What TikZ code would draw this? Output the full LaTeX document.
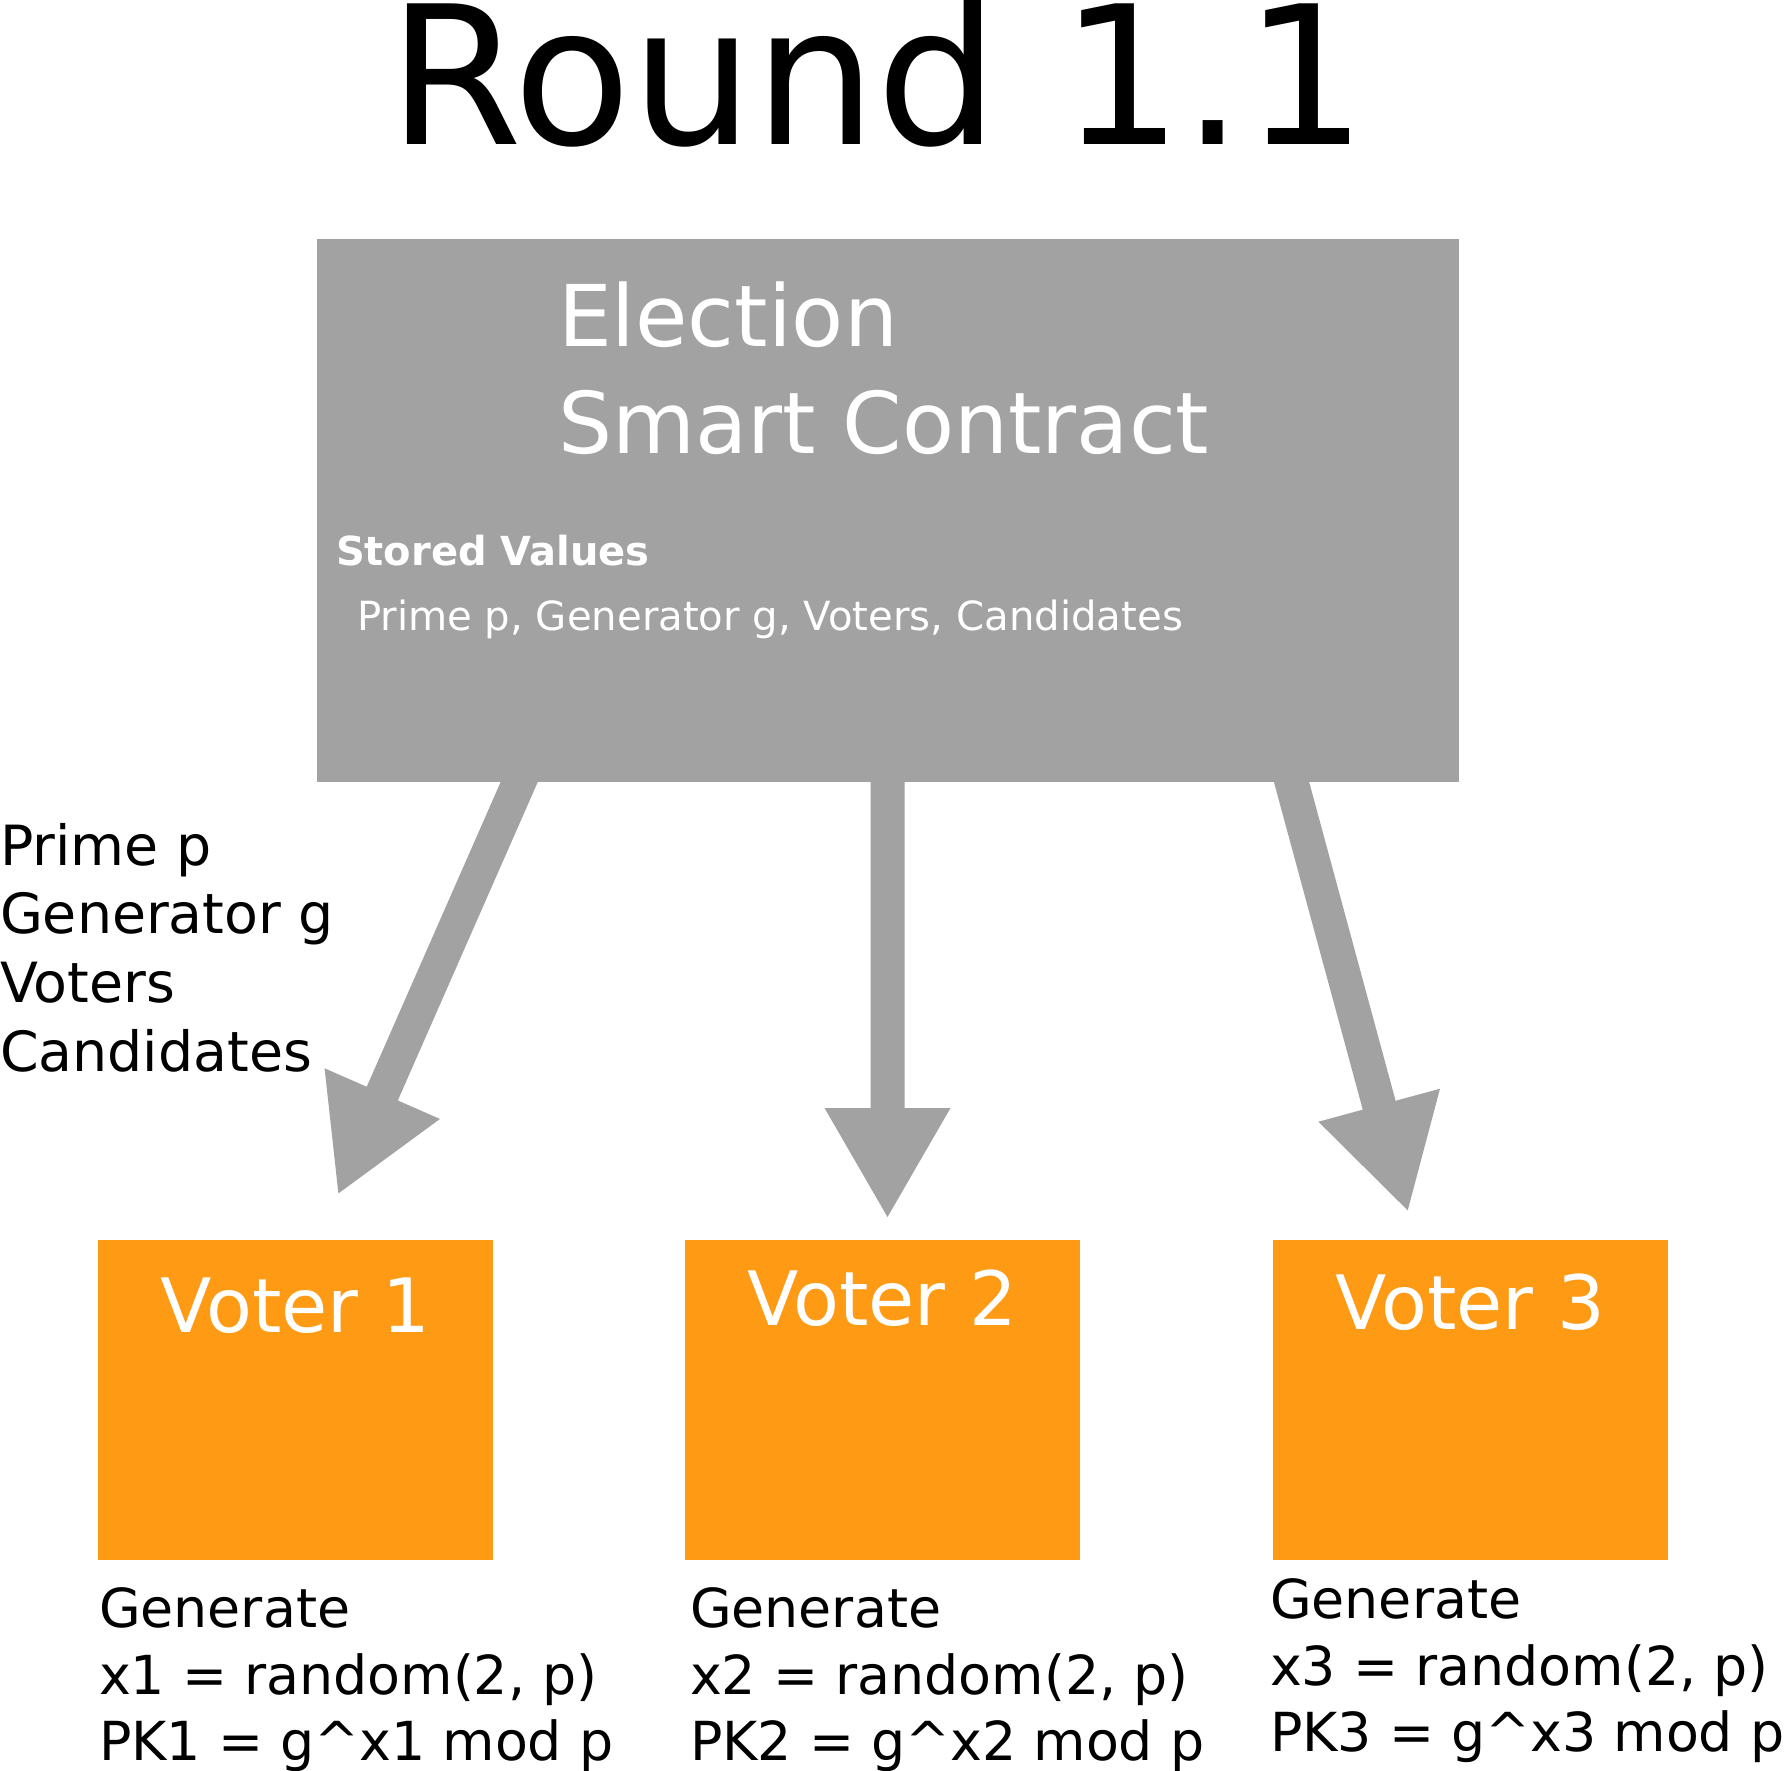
\documentclass[tikz,border=0pt]{standalone}
\usepackage{fontspec}
\setmainfont{DejaVu Sans}
\usetikzlibrary{calc,backgrounds}
\definecolor{boxgray}{RGB}{162,162,162}
\definecolor{voterorange}{RGB}{254,154,20}
\tikzset{
  every node/.style={inner sep=0pt, outer sep=0pt},
  contract/.style={fill=boxgray, draw=none, minimum width=571pt, minimum height=271.5pt, anchor=north west},
  voter/.style={fill=voterorange, draw=none, minimum width=197.5pt, minimum height=160pt, anchor=north west},
  sctext/.style={text=white, anchor=base west, font=\fontsize{42.6}{52}\selectfont},
  votertext/.style={text=white, anchor=base, font=\fontsize{37.5}{44}\selectfont},
  bodytext/.style={text=black, anchor=base west, font=\fontsize{27.7}{33}\selectfont},
  gentext/.style={text=black, anchor=base west, font=\fontsize{26.9}{33}\selectfont},
}
\newcommand\bigarrow[2]{%
  \coordinate (ab) at ($(#2)!54.5pt!(#1)$);
  \fill[boxgray] ($(#1)!8.5pt!90:(#2)$) -- ($(ab)!8.5pt!-90:(#1)$) -- ($(ab)!31.5pt!-90:(#1)$)
     -- (#2) -- ($(ab)!31.5pt!90:(#1)$) -- ($(ab)!8.5pt!90:(#1)$) -- ($(#1)!8.5pt!-90:(#2)$) -- cycle;}
\begin{document}
\begin{tikzpicture}[x=0.5pt,y=-0.5pt]
\useasboundingbox (0,0) rectangle (1791,1770);
% title
\node[anchor=base, font=\fontsize{96.5}{112}\selectfont] (title) at (877.5,145) {Round 1.1};
% smart contract
\node[contract] (sc) at (317,239) {};
\node[sctext] (sc1) at (558,347) {Election};
\node[sctext] (sc2) at (558,453) {Smart Contract};
\node[text=white, anchor=base west, font=\bfseries\fontsize{20}{24}\selectfont] (sv) at (336,565) {Stored Values};
\node[text=white, anchor=base west, font=\fontsize{20.1}{24}\selectfont] (svl) at (357,630) {Prime p, Generator g, Voters, Candidates};
% left label
\node[bodytext] (l1) at (0,865) {Prime p};
\node[bodytext] (l2) at (0,933.7) {Generator g};
\node[bodytext] (l3) at (0,1002.4) {Voters};
\node[bodytext] (l4) at (0,1071.1) {Candidates};
% voters
\node[voter] (v1) at (98,1240) {};
\node[voter] (v2) at (685,1240) {};
\node[voter] (v3) at (1273,1240) {};
\node[votertext] (v1t) at ($(v1.north)+(0,92)$) {Voter 1};
\node[votertext] (v2t) at ($(v2.north)+(0,85)$) {Voter 2};
\node[votertext] (v3t) at ($(v3.north)+(0,89)$) {Voter 3};
% generate blocks
\node[gentext] (g1a) at (99,1627) {Generate};
\node[gentext] (g1b) at (99,1694) {x1 = random(2, p)};
\node[gentext] (g1c) at (99,1760) {PK1 = g\^{}x1 mod p};
\node[gentext] (g2a) at (690,1627) {Generate};
\node[gentext] (g2b) at (690,1694) {x2 = random(2, p)};
\node[gentext] (g2c) at (690,1760) {PK2 = g\^{}x2 mod p};
\node[gentext] (g3a) at (1270,1618) {Generate};
\node[gentext] (g3b) at (1270,1685) {x3 = random(2, p)};
\node[gentext] (g3c) at (1270,1751) {PK3 = g\^{}x3 mod p};
% arrows
\coordinate (a1s) at (528,762);
\coordinate (a1t) at (338.4,1193.4);
\coordinate (a2s) at (887.5,762);
\coordinate (a2t) at (887.5,1217);
\coordinate (a3s) at (1286.1,762);
\coordinate (a3t) at (1407.7,1210.4);
\begin{scope}[on background layer]
\bigarrow{a1s}{a1t}
\bigarrow{a2s}{a2t}
\bigarrow{a3s}{a3t}
\end{scope}
\end{tikzpicture}
\end{document}
